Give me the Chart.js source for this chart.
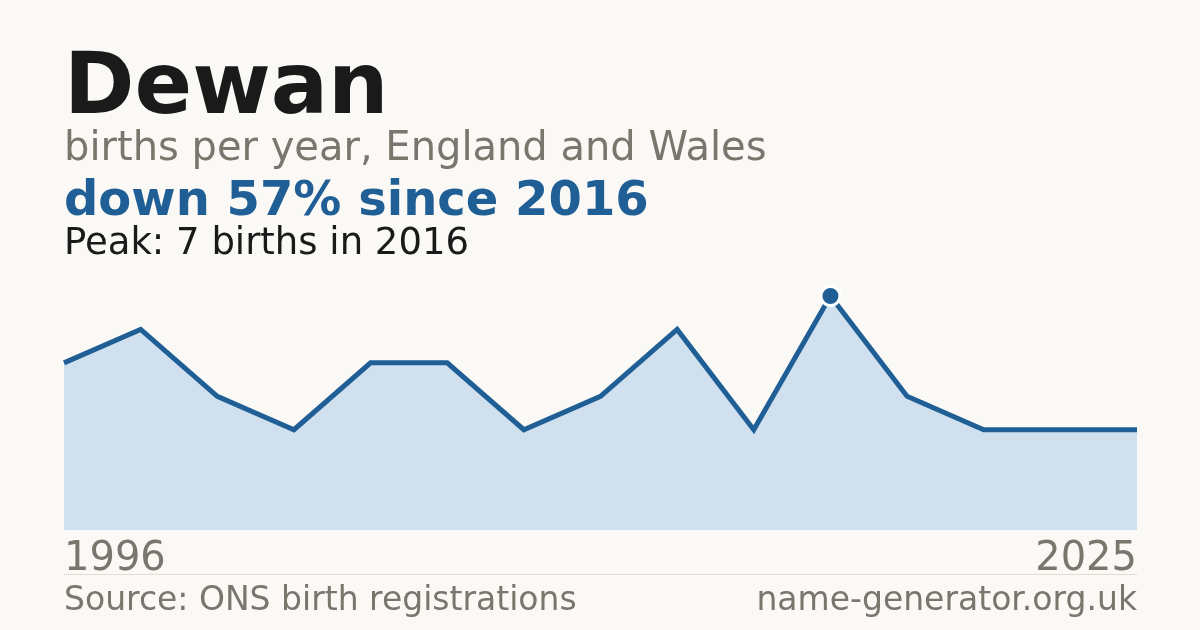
<!DOCTYPE html>
<html>
<head>
<meta charset="utf-8">
<script src="https://cdn.jsdelivr.net/npm/chart.js@4/dist/chart.umd.min.js"></script>
<style>
  html, body { margin: 0; padding: 0; background: #faf9f5; }
  #wrap { position: relative; width: 1200px; height: 630px; }
</style>
</head>
<body>
<div id="wrap"><canvas id="chart" width="1200" height="630"></canvas></div>
<script>
// data
var years = [1996, 1998, 2000, 2002, 2004, 2006, 2008, 2010, 2012, 2014, 2016, 2018, 2020, 2022, 2025];
var births = [5, 6, 4, 3, 5, 5, 3, 4, 6, 3, 7, 4, 3, 3, 3];
var peakIndex = 10;
var axisLabels = ['1996', '2025'];

var FONT = '"DejaVu Sans", "Noto Sans", sans-serif';
var BLUE = '#1f5f96';
var GREY = '#7a756d';

var textPlugin = {
  id: 'texts',
  afterDraw: function (chart) {
    var ctx = chart.ctx;
    var area = chart.chartArea;
    ctx.save();
    ctx.textBaseline = 'alphabetic';
    ctx.textAlign = 'left';

    ctx.fillStyle = '#1a1a1a';
    ctx.font = 'bold 85px ' + FONT;
    ctx.fillText('Dewan', 64, 113);

    ctx.fillStyle = GREY;
    ctx.font = '40px ' + FONT;
    ctx.fillText('births per year, England and Wales', 64, 160);

    ctx.fillStyle = BLUE;
    ctx.font = 'bold 48px ' + FONT;
    ctx.fillText('down 57% since 2016', 64, 215);

    ctx.fillStyle = '#1a1a1a';
    ctx.font = '37px ' + FONT;
    ctx.fillText('Peak: 7 births in 2016', 64, 254);

    // first / last year under the axis
    ctx.fillStyle = GREY;
    ctx.font = '40px ' + FONT;
    ctx.fillText(axisLabels[0], area.left, 570);
    ctx.textAlign = 'right';
    ctx.fillText(axisLabels[1], area.right, 570);

    // divider
    ctx.strokeStyle = '#e0ddd5';
    ctx.lineWidth = 1;
    ctx.beginPath();
    ctx.moveTo(area.left, 574.5);
    ctx.lineTo(area.right, 574.5);
    ctx.stroke();

    ctx.font = '33px ' + FONT;
    ctx.textAlign = 'left';
    ctx.fillText('Source: ONS birth registrations', 64, 610);
    ctx.textAlign = 'right';
    ctx.fillText('name-generator.org.uk', area.right, 610);
    ctx.restore();
  }
};

var radii = births.map(function (v, i) { return i === peakIndex ? 9.5 : 0; });

new Chart(document.getElementById('chart').getContext('2d'), {
  type: 'line',
  plugins: [textPlugin],
  data: {
    labels: years,
    datasets: [{
      data: births,
      borderColor: BLUE,
      borderWidth: 5,
      backgroundColor: '#d0e0ef',
      fill: 'origin',
      tension: 0,
      pointRadius: radii,
      pointHoverRadius: radii,
      pointBackgroundColor: BLUE,
      pointBorderColor: '#ffffff',
      pointBorderWidth: 3,
      clip: false
    }]
  },
  options: {
    responsive: false,
    animation: false,
    layout: { padding: { left: 64, right: 63, top: 296, bottom: 100 } },
    plugins: { legend: { display: false }, tooltip: { enabled: false } },
    scales: {
      x: { display: false, offset: false },
      y: { display: false, min: 0, max: 7 }
    }
  }
});
</script>
</body>
</html>
